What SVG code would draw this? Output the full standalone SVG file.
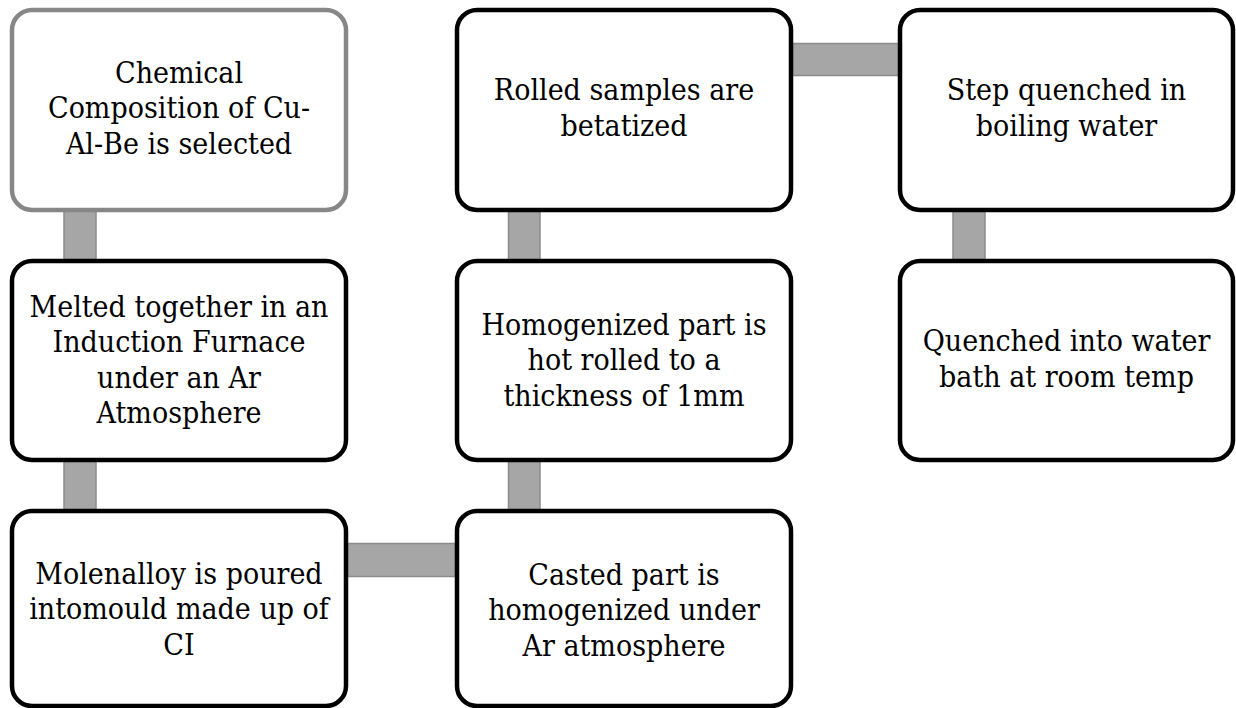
<svg xmlns="http://www.w3.org/2000/svg" width="1236" height="708" viewBox="0 0 1236 708">
<style>
.box{fill:#ffffff;stroke:#000000;stroke-width:4.5}
.first{stroke:#878787}
.conn{fill:#a6a6a6;stroke:#8c8c8c;stroke-width:1.5}
.t{font-family:'DejaVu Serif','Liberation Serif',serif;font-size:30px;fill:#000000;text-anchor:middle}
</style>
<rect width="1236" height="708" fill="#ffffff"/>
<g id="connectors">
<rect class="conn" x="64" y="205" width="32" height="60"/>
<rect class="conn" x="64" y="455" width="32" height="60"/>
<rect class="conn" x="340" y="543.5" width="122" height="33"/>
<rect class="conn" x="508.5" y="455" width="31.5" height="60"/>
<rect class="conn" x="508.5" y="205" width="31.5" height="60"/>
<rect class="conn" x="785" y="43.5" width="120" height="32"/>
<rect class="conn" x="953" y="205" width="32" height="60"/>
</g>
<g id="n1">
<rect class="box first" x="12" y="10" width="334" height="200" rx="20"/>
<text class="t" transform="translate(179 0) scale(0.9 1)" x="0" y="83">Chemical<tspan x="0" y="118.5">Composition of Cu-</tspan><tspan x="0" y="154">Al-Be is selected</tspan></text>
</g>
<g id="n2">
<rect class="box" x="12" y="261" width="334" height="199" rx="20"/>
<text class="t" transform="translate(179 0) scale(0.9 1)" x="0" y="317">Melted together in an<tspan x="0" y="352.5">Induction Furnace</tspan><tspan x="0" y="388">under an Ar</tspan><tspan x="0" y="423.5">Atmosphere</tspan></text>
</g>
<g id="n3">
<rect class="box" x="12" y="511" width="334" height="195" rx="20"/>
<text class="t" transform="translate(179 0) scale(0.9 1)" x="0" y="584">Molenalloy is poured<tspan x="0" y="619.5">intomould made up of</tspan><tspan x="0" y="655">CI</tspan></text>
</g>
<g id="n4">
<rect class="box" x="457" y="511" width="334" height="195" rx="20"/>
<text class="t" transform="translate(624 0) scale(0.9 1)" x="0" y="585">Casted part is<tspan x="0" y="620.5">homogenized under</tspan><tspan x="0" y="656">Ar atmosphere</tspan></text>
</g>
<g id="n5">
<rect class="box" x="457" y="261" width="334" height="199" rx="20"/>
<text class="t" transform="translate(624 0) scale(0.9 1)" x="0" y="335">Homogenized part is<tspan x="0" y="370.5">hot rolled to a</tspan><tspan x="0" y="406">thickness of 1mm</tspan></text>
</g>
<g id="n6">
<rect class="box" x="457" y="10" width="334" height="200" rx="20"/>
<text class="t" transform="translate(624 0) scale(0.9 1)" x="0" y="100">Rolled samples are<tspan x="0" y="136">betatized</tspan></text>
</g>
<g id="n7">
<rect class="box" x="900" y="10" width="333" height="200" rx="20"/>
<text class="t" transform="translate(1066.5 0) scale(0.9 1)" x="0" y="100">Step quenched in<tspan x="0" y="136">boiling water</tspan></text>
</g>
<g id="n8">
<rect class="box" x="900" y="261" width="333" height="199" rx="20"/>
<text class="t" transform="translate(1066.5 0) scale(0.9 1)" x="0" y="351.5">Quenched into water<tspan x="0" y="387">bath at room temp</tspan></text>
</g>
</svg>
